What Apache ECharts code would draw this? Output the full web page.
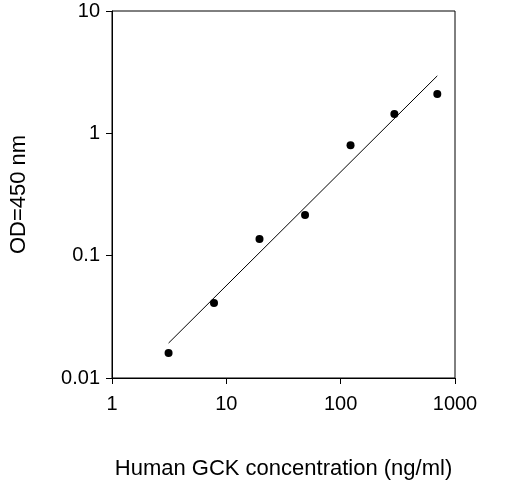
<!DOCTYPE html>
<html>
<head>
<meta charset="utf-8">
<script src="https://cdn.jsdelivr.net/npm/echarts@6/dist/echarts.min.js"></script>
<style>html,body{margin:0;padding:0;background:#fff}#main{width:509px;height:490px}</style>
</head>
<body>
<div id="main"></div>
<script>
//浓度 ng/ml
let concentration = [3.125, 7.8, 19.5, 48.8, 122, 295, 700]
//OD值
let od = [0.016, 0.041, 0.137, 0.215, 0.80, 1.44, 2.1]
//拟合线端点
let fitX = [3.125, 700]
let fitY = [0.0193, 2.95]

let myChart = echarts.init(document.getElementById('main'))
let font = 'Liberation Sans, Arial, sans-serif'
let option = {
    animation: false,
    grid: {left: 108, top: 11, width: 347, height: 367, show: true, borderColor: '#000', borderWidth: 1},
    xAxis: {
        type: 'log', logBase: 10, min: 1, max: 1000,
        name: 'Human GCK concentration (ng/ml)', nameLocation: 'middle', nameGap: 80,
        nameTextStyle: {fontSize: 22, color: '#000', fontFamily: font},
        axisLine: {lineStyle: {color: '#000'}},
        axisTick: {inside: false, length: 6, lineStyle: {color: '#000'}},
        axisLabel: {fontSize: 20, color: '#000', fontFamily: font, margin: 16,
            formatter: v => String(+v.toPrecision(2))},
        splitLine: {show: false}
    },
    yAxis: {
        type: 'log', logBase: 10, min: 0.01, max: 10,
        name: 'OD=450 nm', nameLocation: 'middle', nameGap: 82,
        nameTextStyle: {fontSize: 22, color: '#000', fontFamily: font},
        axisLine: {lineStyle: {color: '#000'}},
        axisTick: {inside: false, length: 6, lineStyle: {color: '#000'}},
        axisLabel: {fontSize: 20, color: '#000', fontFamily: font, margin: 12,
            formatter: v => String(+v.toPrecision(2))},
        splitLine: {show: false}
    },
    series: [
        {
            type: 'line',
            data: fitX.map((x, i) => [x, fitY[i]]),
            symbol: 'none',
            lineStyle: {color: '#000', width: 1}
        },
        {
            type: 'scatter',
            data: concentration.map((x, i) => [x, od[i]]),
            symbolSize: 8,
            itemStyle: {color: '#000', opacity: 1}
        }
    ]
}
myChart.setOption(option)
</script>
</body>
</html>
